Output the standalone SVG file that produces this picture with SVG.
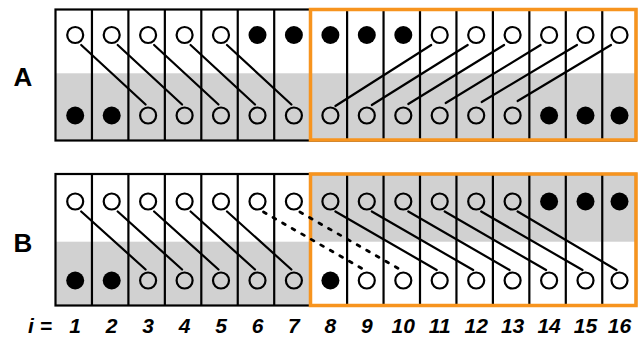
<svg xmlns="http://www.w3.org/2000/svg" width="643" height="339" viewBox="0 0 643 339">
<style>
.bg{fill:#d1d1d1}
.frame{fill:none;stroke:#000;stroke-width:2.2}
.div{stroke:#000;stroke-width:2.2}
.open{fill:none;stroke:#000;stroke-width:2.2}
.full{fill:#000}
.ln{stroke:#000;stroke-width:2.2;stroke-linecap:round;fill:none}
.dot{stroke:#000;stroke-width:2.8;stroke-dasharray:3 8;stroke-linecap:round;fill:none}
.hl{fill:none;stroke:#f7941e;stroke-width:3.5}
.lab{font-family:"Liberation Sans",Arial,sans-serif;font-weight:bold;font-size:26px;fill:#000}
.num{font-family:"Liberation Sans",Arial,sans-serif;font-weight:bold;font-style:italic;font-size:21px;fill:#000;text-anchor:middle}
</style>
<g id="panel-A">
  <rect class="bg" x="55.5" y="73.3" width="580.5" height="67.2"/>
  <g id="A-dividers">
    <line class="div" x1="91.95" y1="9.5" x2="91.95" y2="140.5"/>
    <line class="div" x1="128.4" y1="9.5" x2="128.4" y2="140.5"/>
    <line class="div" x1="164.85" y1="9.5" x2="164.85" y2="140.5"/>
    <line class="div" x1="201.3" y1="9.5" x2="201.3" y2="140.5"/>
    <line class="div" x1="237.75" y1="9.5" x2="237.75" y2="140.5"/>
    <line class="div" x1="274.2" y1="9.5" x2="274.2" y2="140.5"/>
    <line class="div" x1="347.1" y1="9.5" x2="347.1" y2="140.5"/>
    <line class="div" x1="383.55" y1="9.5" x2="383.55" y2="140.5"/>
    <line class="div" x1="420" y1="9.5" x2="420" y2="140.5"/>
    <line class="div" x1="456.45" y1="9.5" x2="456.45" y2="140.5"/>
    <line class="div" x1="492.9" y1="9.5" x2="492.9" y2="140.5"/>
    <line class="div" x1="529.35" y1="9.5" x2="529.35" y2="140.5"/>
    <line class="div" x1="565.8" y1="9.5" x2="565.8" y2="140.5"/>
    <line class="div" x1="602.25" y1="9.5" x2="602.25" y2="140.5"/>
  </g>
  <rect class="frame" x="55.5" y="9.5" width="580.5" height="131"/>
  <g id="A-top">
    <circle class="open" cx="75.2" cy="35" r="8"/>
    <circle class="open" cx="111.7" cy="35" r="8"/>
    <circle class="open" cx="148.1" cy="35" r="8"/>
    <circle class="open" cx="184.6" cy="35" r="8"/>
    <circle class="open" cx="221" cy="35" r="8"/>
    <circle class="full" cx="257.5" cy="35" r="9"/>
    <circle class="full" cx="293.9" cy="35" r="9"/>
    <circle class="full" cx="330.4" cy="35" r="9"/>
    <circle class="full" cx="366.8" cy="35" r="9"/>
    <circle class="full" cx="403.3" cy="35" r="9"/>
    <circle class="open" cx="439.7" cy="35" r="8"/>
    <circle class="open" cx="476.2" cy="35" r="8"/>
    <circle class="open" cx="512.6" cy="35" r="8"/>
    <circle class="open" cx="549.1" cy="35" r="8"/>
    <circle class="open" cx="585.5" cy="35" r="8"/>
    <circle class="open" cx="619.5" cy="35" r="8"/>
  </g>
  <g id="A-bottom">
    <circle class="full" cx="75.2" cy="115.5" r="9"/>
    <circle class="full" cx="111.7" cy="115.5" r="9"/>
    <circle class="open" cx="148.1" cy="115.5" r="8"/>
    <circle class="open" cx="184.6" cy="115.5" r="8"/>
    <circle class="open" cx="221" cy="115.5" r="8"/>
    <circle class="open" cx="257.5" cy="115.5" r="8"/>
    <circle class="open" cx="293.9" cy="115.5" r="8"/>
    <circle class="open" cx="330.4" cy="115.5" r="8"/>
    <circle class="open" cx="366.8" cy="115.5" r="8"/>
    <circle class="open" cx="403.3" cy="115.5" r="8"/>
    <circle class="open" cx="439.7" cy="115.5" r="8"/>
    <circle class="open" cx="476.2" cy="115.5" r="8"/>
    <circle class="open" cx="512.6" cy="115.5" r="8"/>
    <circle class="full" cx="549.1" cy="115.5" r="9"/>
    <circle class="full" cx="585.5" cy="115.5" r="9"/>
    <circle class="full" cx="619.5" cy="115.5" r="9"/>
  </g>
  <rect class="hl" x="310.5" y="9.5" width="325.5" height="130.5"/>
  <text class="lab" x="23" y="86" text-anchor="middle">A</text>
</g>
<g id="panel-B">
  <rect class="bg" x="55.5" y="241.7" width="255" height="64"/>
  <rect class="bg" x="310.5" y="174" width="325.5" height="67.7"/>
  <g id="B-dividers">
    <line class="div" x1="91.95" y1="174" x2="91.95" y2="305.5"/>
    <line class="div" x1="128.4" y1="174" x2="128.4" y2="305.5"/>
    <line class="div" x1="164.85" y1="174" x2="164.85" y2="305.5"/>
    <line class="div" x1="201.3" y1="174" x2="201.3" y2="305.5"/>
    <line class="div" x1="237.75" y1="174" x2="237.75" y2="305.5"/>
    <line class="div" x1="274.2" y1="174" x2="274.2" y2="305.5"/>
    <line class="div" x1="347.1" y1="174" x2="347.1" y2="305.5"/>
    <line class="div" x1="383.55" y1="174" x2="383.55" y2="305.5"/>
    <line class="div" x1="420" y1="174" x2="420" y2="305.5"/>
    <line class="div" x1="456.45" y1="174" x2="456.45" y2="305.5"/>
    <line class="div" x1="492.9" y1="174" x2="492.9" y2="305.5"/>
    <line class="div" x1="529.35" y1="174" x2="529.35" y2="305.5"/>
    <line class="div" x1="565.8" y1="174" x2="565.8" y2="305.5"/>
    <line class="div" x1="602.25" y1="174" x2="602.25" y2="305.5"/>
  </g>
  <rect class="frame" x="55.5" y="174" width="580.5" height="131.5"/>
  <g id="B-top">
    <circle class="open" cx="75.2" cy="201.5" r="8"/>
    <circle class="open" cx="111.7" cy="201.5" r="8"/>
    <circle class="open" cx="148.1" cy="201.5" r="8"/>
    <circle class="open" cx="184.6" cy="201.5" r="8"/>
    <circle class="open" cx="221" cy="201.5" r="8"/>
    <circle class="open" cx="257.5" cy="201.5" r="8"/>
    <circle class="open" cx="293.9" cy="201.5" r="8"/>
    <circle class="open" cx="330.4" cy="201.5" r="8"/>
    <circle class="open" cx="366.8" cy="201.5" r="8"/>
    <circle class="open" cx="403.3" cy="201.5" r="8"/>
    <circle class="open" cx="439.7" cy="201.5" r="8"/>
    <circle class="open" cx="476.2" cy="201.5" r="8"/>
    <circle class="open" cx="512.6" cy="201.5" r="8"/>
    <circle class="full" cx="549.1" cy="201.5" r="9"/>
    <circle class="full" cx="585.5" cy="201.5" r="9"/>
    <circle class="full" cx="619.5" cy="201.5" r="9"/>
  </g>
  <g id="B-bottom">
    <circle class="full" cx="75.2" cy="280.5" r="9"/>
    <circle class="full" cx="111.7" cy="280.5" r="9"/>
    <circle class="open" cx="148.1" cy="280.5" r="8"/>
    <circle class="open" cx="184.6" cy="280.5" r="8"/>
    <circle class="open" cx="221" cy="280.5" r="8"/>
    <circle class="open" cx="257.5" cy="280.5" r="8"/>
    <circle class="open" cx="293.9" cy="280.5" r="8"/>
    <circle class="full" cx="330.4" cy="280.5" r="9"/>
    <circle class="open" cx="366.8" cy="280.5" r="8"/>
    <circle class="open" cx="403.3" cy="280.5" r="8"/>
    <circle class="open" cx="439.7" cy="280.5" r="8"/>
    <circle class="open" cx="476.2" cy="280.5" r="8"/>
    <circle class="open" cx="512.6" cy="280.5" r="8"/>
    <circle class="open" cx="549.1" cy="280.5" r="8"/>
    <circle class="open" cx="585.5" cy="280.5" r="8"/>
    <circle class="open" cx="619.5" cy="280.5" r="8"/>
  </g>
  <rect class="hl" x="310.5" y="174" width="325.5" height="131.5"/>
  <text class="lab" x="23" y="252" text-anchor="middle">B</text>
</g>
<g id="connectors">
  <line class="ln" x1="81.2" y1="45" x2="145.6" y2="104.5"/>
  <line class="ln" x1="117.7" y1="45" x2="182.1" y2="104.5"/>
  <line class="ln" x1="154.1" y1="45" x2="218.5" y2="104.5"/>
  <line class="ln" x1="190.6" y1="45" x2="255" y2="104.5"/>
  <line class="ln" x1="227" y1="45" x2="291.4" y2="104.5"/>
  <line class="ln" x1="431.2" y1="45" x2="335.4" y2="106"/>
  <line class="ln" x1="467.7" y1="45" x2="371.8" y2="105"/>
  <line class="ln" x1="504.1" y1="45" x2="408.3" y2="104"/>
  <line class="ln" x1="540.6" y1="45" x2="445.7" y2="103"/>
  <line class="ln" x1="577" y1="45" x2="481.7" y2="102"/>
  <line class="ln" x1="611" y1="45" x2="517.6" y2="101"/>
  <line class="ln" x1="81.2" y1="211.5" x2="145.6" y2="269.5"/>
  <line class="ln" x1="117.7" y1="211.5" x2="182.1" y2="269.5"/>
  <line class="ln" x1="154.1" y1="211.5" x2="218.5" y2="269.5"/>
  <line class="ln" x1="190.6" y1="211.5" x2="255" y2="269.5"/>
  <line class="ln" x1="227" y1="211.5" x2="291.4" y2="269.5"/>
  <line class="dot" x1="263.5" y1="212" x2="362.8" y2="269"/>
  <line class="dot" x1="299.9" y1="212" x2="399.3" y2="269"/>
  <line class="ln" x1="335.4" y1="211.5" x2="436.7" y2="270"/>
  <line class="ln" x1="371.8" y1="211.5" x2="473.2" y2="270"/>
  <line class="ln" x1="408.3" y1="211.5" x2="509.6" y2="270"/>
  <line class="ln" x1="444.7" y1="211.5" x2="546.1" y2="270"/>
  <line class="ln" x1="481.2" y1="211.5" x2="582.5" y2="270"/>
  <line class="ln" x1="517.6" y1="211.5" x2="616.5" y2="270"/>
</g>
<g id="index-labels">
  <text class="num" x="40" y="333">i =</text>
  <text class="num" x="75.2" y="333">1</text>
  <text class="num" x="111.7" y="333">2</text>
  <text class="num" x="148.1" y="333">3</text>
  <text class="num" x="184.6" y="333">4</text>
  <text class="num" x="221" y="333">5</text>
  <text class="num" x="257.5" y="333">6</text>
  <text class="num" x="293.9" y="333">7</text>
  <text class="num" x="330.4" y="333">8</text>
  <text class="num" x="366.8" y="333">9</text>
  <text class="num" x="403.3" y="333">10</text>
  <text class="num" x="439.7" y="333">11</text>
  <text class="num" x="476.2" y="333">12</text>
  <text class="num" x="512.6" y="333">13</text>
  <text class="num" x="549.1" y="333">14</text>
  <text class="num" x="585.5" y="333">15</text>
  <text class="num" x="619.5" y="333">16</text>
</g>
</svg>
